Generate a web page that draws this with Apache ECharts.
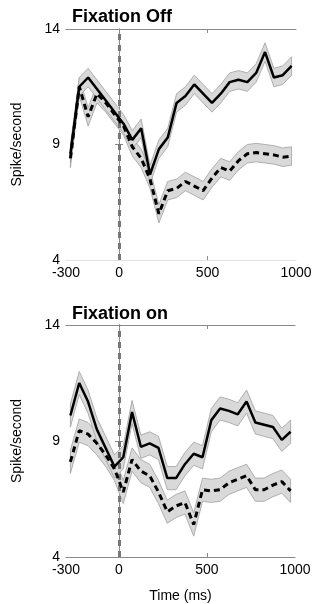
<!DOCTYPE html>
<html>
<head>
<meta charset="utf-8">
<script src="https://cdn.jsdelivr.net/npm/echarts@6/dist/echarts.min.js"></script>
<style>
  html, body { margin: 0; padding: 0; background: #fff; }
  #chart { width: 320px; height: 604px; }
</style>
</head>
<body>
<div id="chart"></div>
<script>
// time bins (ms), centre of each 50 ms window
const times = [-275, -225, -175, -125, -75, -25, 25, 75, 125, 175, 225, 275, 325,
  375, 425, 475, 525, 575, 625, 675, 725, 775, 825, 875, 925, 975];

// Fixation Off panel
const offSolid = [8.6, 11.5, 11.9, 11.4, 10.9, 10.4, 9.9, 9.2, 9.7, 7.7, 8.8, 9.3, 10.8,
  11.1, 11.6, 11.2, 10.8, 11.2, 11.7, 11.8, 11.7, 12.1, 13.0, 11.9, 12.0, 12.4];
const offDashed = [8.4, 11.5, 10.2, 11.2, 10.8, 10.3, 9.8, 8.9, 8.4, 7.5, 6.0, 7.0, 7.1,
  7.4, 7.2, 7.0, 7.55, 8.0, 7.85, 8.3, 8.6, 8.65, 8.6, 8.55, 8.45, 8.5];

// Fixation on panel
const onSolid = [10.1, 11.5, 10.7, 9.5, 8.7, 7.9, 8.3, 10.25, 8.75, 8.9, 8.7, 7.4, 7.4,
  8.0, 8.45, 8.3, 9.9, 10.4, 10.3, 10.15, 10.7, 9.8, 9.7, 9.6, 9.05, 9.4];
const onDashed = [8.1, 9.45, 9.3, 8.9, 8.4, 7.8, 6.8, 8.2, 7.7, 7.5, 6.8, 5.95, 6.2,
  6.35, 5.4, 6.9, 6.85, 6.9, 7.2, 7.35, 7.5, 6.9, 6.9, 7.1, 7.25, 6.85];

// standard error half-width of the shaded bands
const semOff = 0.4;
const semOn = 0.5;

const xTicks = [-300, 0, 500, 1000];
const yTicks = [4, 9, 14];
const onsetAt = [0];

const font = 'Liberation Sans, Arial, sans-serif';
const frame = '#8a8a8a';

const chart = echarts.init(document.getElementById('chart'));

function xAxes(grid, bottomColor, withName) {
  return [
    {
      type: 'value', gridIndex: grid, position: 'bottom', min: -300, max: 1000,
      axisLine: { lineStyle: { color: bottomColor, width: 1 } },
      axisTick: { inside: true, length: 4, customValues: [500], lineStyle: { color: frame } },
      axisLabel: { customValues: xTicks, formatter: (v) => String(v), color: '#000',
        fontSize: 14, fontFamily: font, margin: 6 },
      splitLine: { show: false },
      name: withName ? 'Time (ms)' : '',
      nameLocation: 'middle', nameGap: 32,
      nameTextStyle: { color: '#000', fontSize: 14, fontFamily: font }
    },
    {
      type: 'value', gridIndex: grid, position: 'top', min: -300, max: 1000,
      axisLine: { lineStyle: { color: frame, width: 1 } },
      axisTick: { inside: true, length: 4, customValues: [500], lineStyle: { color: frame } },
      axisLabel: { show: false },
      splitLine: { show: false }
    }
  ];
}

function yAxes(grid) {
  return [
    {
      type: 'value', gridIndex: grid, position: 'left', min: 4, max: 14,
      axisLine: { show: true, lineStyle: { color: frame, width: 1 } },
      axisTick: { show: true, inside: true, length: 4, customValues: [9], lineStyle: { color: frame } },
      axisLabel: { customValues: yTicks, color: '#000', fontSize: 14, fontFamily: font, margin: 6 },
      splitLine: { show: false },
      name: 'Spike/second', nameLocation: 'middle', nameGap: 42,
      nameTextStyle: { color: '#000', fontSize: 14, fontFamily: font }
    },
    {
      type: 'value', gridIndex: grid, position: 'right', min: 4, max: 14,
      axisLine: { show: true, lineStyle: { color: frame, width: 1 } },
      axisTick: { show: true, inside: true, length: 4, customValues: [9], lineStyle: { color: frame } },
      axisLabel: { show: false },
      splitLine: { show: false }
    }
  ];
}

// shaded mean ± sem band as one polygon, placed through the axes
function bandSeries(xi, yi, mean, sem, z) {
  const data = times.map((t, i) => [t, mean[i] - sem, mean[i] + sem]);
  return {
    type: 'custom', xAxisIndex: xi, yAxisIndex: yi, z: z, clip: true,
    encode: { x: 0, y: [1, 2] },
    data: data,
    renderItem: (params, api) => {
      if (params.dataIndex !== 0) return null;
      const upper = data.map((d) => api.coord([d[0], d[2]]));
      const lower = data.map((d) => api.coord([d[0], d[1]])).reverse();
      return {
        type: 'polygon',
        shape: { points: upper.concat(lower) },
        style: { fill: '#d9d9d9', stroke: '#9f9f9f', lineWidth: 0.8 }
      };
    }
  };
}

function meanSeries(xi, yi, mean, dashed, withMark) {
  const s = {
    type: 'line', xAxisIndex: xi, yAxisIndex: yi,
    data: times.map((t, i) => [t, mean[i]]),
    showSymbol: false, symbol: 'none', z: 5,
    lineStyle: { color: '#000', width: dashed ? 3 : 2.5, type: dashed ? [6, 4] : 'solid' }
  };
  if (withMark) {
    s.markLine = {
      silent: true, symbol: 'none', label: { show: false }, z: 4,
      lineStyle: { color: '#777', width: 3, type: [6, 5], opacity: 1 },
      emphasis: { disabled: true },
      data: onsetAt.map((v) => ({ xAxis: v }))
    };
  }
  return s;
}

const option = {
  animation: false,
  backgroundColor: '#fff',
  title: [
    { text: 'Fixation Off', left: 72, top: 8, padding: 0,
      textStyle: { fontSize: 18, fontWeight: 'bold', color: '#000', fontFamily: font } },
    { text: 'Fixation on', left: 72, top: 305, padding: 0,
      textStyle: { fontSize: 18, fontWeight: 'bold', color: '#000', fontFamily: font } }
  ],
  grid: [
    { left: 66, top: 29, width: 230, height: 231 },
    { left: 66, top: 325, width: 229, height: 232 }
  ],
  xAxis: [].concat(xAxes(0, '#e2e2e2', false), xAxes(1, frame, true)),
  yAxis: [].concat(yAxes(0), yAxes(1)),
  series: [
    bandSeries(0, 0, offDashed, semOff, 1),
    bandSeries(0, 0, offSolid, semOff, 2),
    meanSeries(0, 0, offDashed, true, true),
    meanSeries(0, 0, offSolid, false, false),
    bandSeries(2, 2, onDashed, semOn, 1),
    bandSeries(2, 2, onSolid, semOn, 2),
    meanSeries(2, 2, onDashed, true, true),
    meanSeries(2, 2, onSolid, false, false)
  ]
};

chart.setOption(option);
</script>
</body>
</html>
